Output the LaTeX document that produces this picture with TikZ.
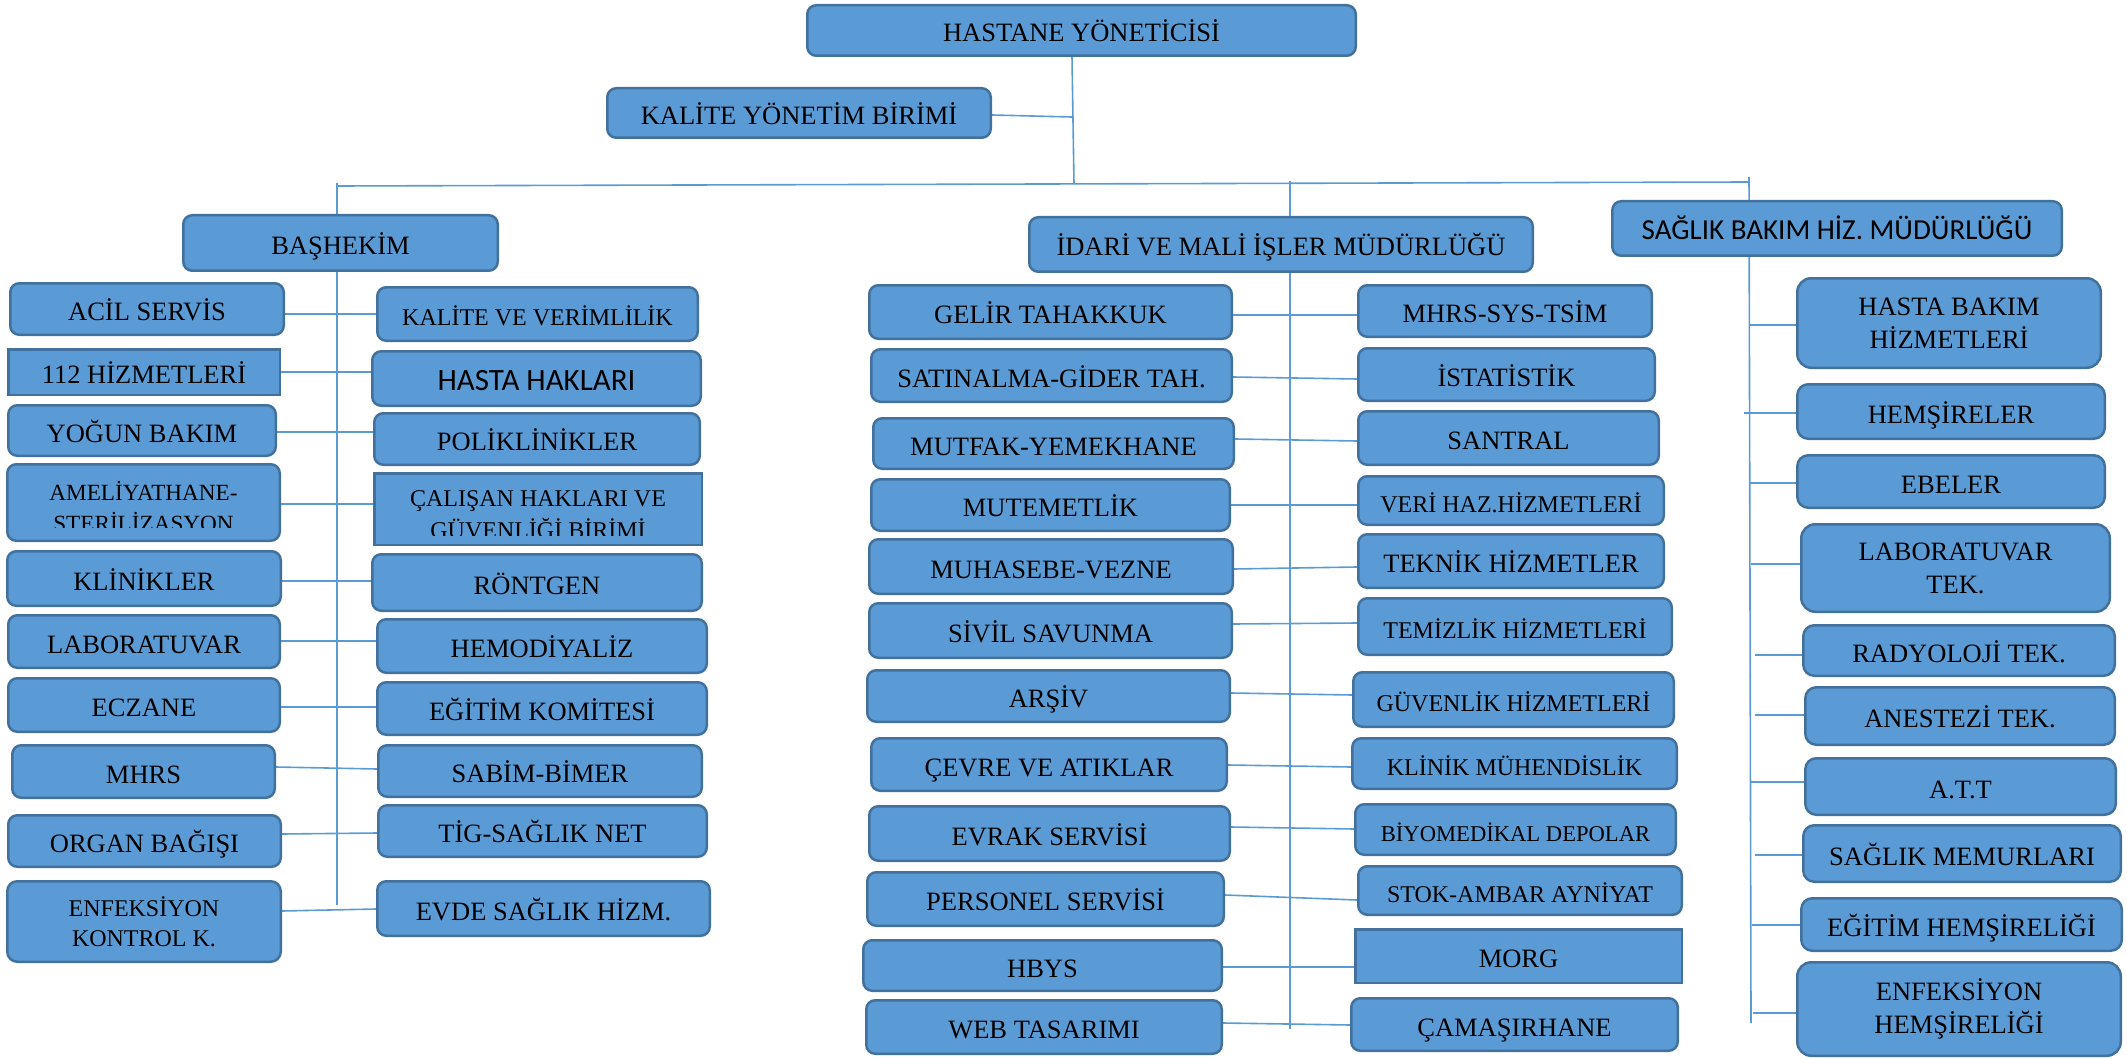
\documentclass[tikz,border=0pt]{standalone}
\usepackage{fontspec}
\setmainfont{Liberation Serif}
\newfontfamily\carl{Carlito}
\usetikzlibrary{backgrounds}
\definecolor{bfill}{HTML}{5B9BD5}
\definecolor{bord}{HTML}{41719C}
\definecolor{lnk}{HTML}{5B9BD5}
\newcommand\fsz[2]{\fontsize{#1}{#2}\selectfont}
\newcommand\B[7][one]{\node[#1,minimum width={(#5-#3)*1pt-2.5pt},minimum height={(#6-#4)*1pt-2.5pt}] (#2) at ({(#3+#5)/2},{(#4+#6)/2}) {#7};}
\tikzset{
  bx/.style={draw=bord, fill=bfill, line width=2.5pt, rounded corners=9pt, inner sep=0pt, text=black},
  one/.style={bx, text height=23pt, text depth=0pt},
  two/.style={bx, align=center, rounded corners=14pt},
  sq/.style={sharp corners},
  small/.style={font=\fsz{24}{30}},
  link/.style={draw=lnk, line width=1.6pt},
  lbl/.style={anchor=base, inner sep=0pt},
}
\begin{document}
\begin{tikzpicture}[x=1pt,y=-1pt,font=\fsz{26.5}{33}]
\useasboundingbox (0,0) rectangle (2127,1059);
% top
\B{hy}{806}{4}{1357}{57}{HASTANE YÖNETİCİSİ}
\B{ky}{606}{87}{992}{139}{KALİTE YÖNETİM BİRİMİ}
\B{bh}{182}{214}{499}{272}{BAŞHEKİM}
\B{im}{1028}{216}{1534}{273}{İDARİ VE MALİ İŞLER MÜDÜRLÜĞÜ}
\B[one,font=\carl\fsz{29}{33}]{sb}{1611}{200}{2063}{257}{SAĞLIK BAKIM HİZ. MÜDÜRLÜĞÜ}
% BAŞHEKİM left column
\B{a1}{9}{282}{285}{336}{ACİL SERVİS}
\B[one,sq]{a2}{7}{348}{281}{396}{112 HİZMETLERİ}
\B{a3}{7}{404}{277}{457}{YOĞUN BAKIM}
\B{a4}{6}{463}{281}{542}{}
\B{a5}{6}{550}{282}{607}{KLİNİKLER}
\B{a6}{7}{614}{281}{669}{LABORATUVAR}
\B{a7}{7}{677}{281}{733}{ECZANE}
\B{a8}{11}{744}{276}{799}{MHRS}
\B{a9}{7}{814}{282}{868}{ORGAN BAĞIŞI}
\B[two,rounded corners=10pt,small]{a10}{6}{880}{282}{963}{ENFEKSİYON\\KONTROL K.}
% BAŞHEKİM right column
\B[one,small]{b1}{376}{286}{699}{342}{KALİTE VE VERİMLİLİK}
\B[one,font=\carl\fsz{31}{33}]{b2}{371}{350}{702}{407}{HASTA HAKLARI}
\B{b3}{373}{412}{701}{466}{POLİKLİNİKLER}
\B[one,sq]{b4}{373}{472}{703}{546}{}
\B{b5}{371}{553}{703}{612}{RÖNTGEN}
\B{b6}{376}{618}{708}{674}{HEMODİYALİZ}
\B{b7}{376}{681}{708}{736}{EĞİTİM KOMİTESİ}
\B{b8}{377}{744}{703}{798}{SABİM-BİMER}
\B{b9}{377}{804}{708}{858}{TİG-SAĞLIK NET}
\B{b10}{376}{880}{711}{937}{EVDE SAĞLIK HİZM.}
% clipped texts
\begin{scope}
  \clip (6,463) rectangle (281,527);
  \node[lbl,font=\fsz{23.2}{30}] (a4t1) at (143.5,500) {AMELİYATHANE-};
  \node[lbl,font=\fsz{23.2}{30}] (a4t2) at (143.5,531) {STERİLİZASYON};
\end{scope}
\begin{scope}
  \clip (373,472) rectangle (703,535);
  \node[lbl,font=\fsz{24}{30}] (b4t1) at (538,506) {ÇALIŞAN HAKLARI VE};
  \node[lbl,font=\fsz{24}{30}] (b4t2) at (538,538) {GÜVENLİĞİ BİRİMİ};
\end{scope}
% İDARİ left column
\B{c1}{868}{284}{1233}{340}{GELİR TAHAKKUK}
\B{c2}{870}{348}{1233}{403}{SATINALMA-GİDER TAH.}
\B{c3}{872}{417}{1235}{470}{MUTFAK-YEMEKHANE}
\B{c4}{870}{478}{1231}{532}{MUTEMETLİK}
\B{c5}{868}{538}{1234}{595}{MUHASEBE-VEZNE}
\B{c6}{868}{602}{1233}{659}{SİVİL SAVUNMA}
\B{c7}{866}{669}{1231}{723}{ARŞİV}
\B{c8}{870}{737}{1228}{792}{ÇEVRE VE ATIKLAR}
\B{c9}{868}{805}{1231}{862}{EVRAK SERVİSİ}
\B{c10}{866}{871}{1225}{927}{PERSONEL SERVİSİ}
\B{c11}{862}{939}{1223}{992}{HBYS}
\B{c12}{865}{999}{1223}{1055}{WEB TASARIMI}
% İDARİ right column
\B{d1}{1357}{284}{1653}{338}{MHRS-SYS-TSİM}
\B{d2}{1357}{347}{1656}{402}{İSTATİSTİK}
\B{d3}{1357}{410}{1660}{466}{SANTRAL}
\B[one,small]{d4}{1357}{475}{1665}{526}{VERİ HAZ.HİZMETLERİ}
\B{d5}{1357}{533}{1665}{589}{TEKNİK HİZMETLER}
\B[one,small]{d6}{1357}{597}{1673}{656}{TEMİZLİK HİZMETLERİ}
\B[one,small]{d7}{1352}{671}{1675}{728}{GÜVENLİK HİZMETLERİ}
\B[one,small]{d8}{1351}{737}{1678}{790}{KLİNİK MÜHENDİSLİK}
\B[one,font=\fsz{22.6}{30}]{d9}{1354}{803}{1677}{856}{BİYOMEDİKAL DEPOLAR}
\B[one,small]{d10}{1357}{865}{1683}{916}{STOK-AMBAR AYNİYAT}
\B[one,sq]{d11}{1354}{928}{1683}{984}{MORG}
\B{d12}{1350}{997}{1679}{1052}{ÇAMAŞIRHANE}
% SAĞLIK column
\B[two]{e1}{1796}{277}{2102}{369}{HASTA BAKIM\\HİZMETLERİ}
\B[one,rounded corners=11pt]{e2}{1796}{383}{2106}{440}{HEMŞİRELER}
\B[one,rounded corners=11pt]{e3}{1796}{454}{2106}{509}{EBELER}
\B[two]{e4}{1800}{523}{2111}{613}{LABORATUVAR\\TEK.}
\B[one,rounded corners=11pt]{e5}{1802}{624}{2116}{677}{RADYOLOJİ TEK.}
\B[one,rounded corners=11pt]{e6}{1804}{686}{2116}{746}{ANESTEZİ TEK.}
\B[one,rounded corners=11pt]{e7}{1804}{757}{2117}{816}{A.T.T}
\B[one,rounded corners=11pt]{e8}{1802}{824}{2122}{883}{SAĞLIK MEMURLARI}
\B[one,rounded corners=11pt]{e9}{1800}{897}{2123}{952}{EĞİTİM HEMŞİRELİĞİ}
\B[two]{e10}{1796}{961}{2122}{1057}{ENFEKSİYON\\HEMŞİRELİĞİ}
% connectors
\coordinate (busL) at (337,186);
\coordinate (busR) at (1749,182);
\coordinate (trk) at (1074,184);
\coordinate (kj) at (1072,117);
\coordinate (bhT) at (337,183);
\coordinate (bhB) at (337,905);
\coordinate (imT) at (1290,181);
\coordinate (imB) at (1290,1029);
\coordinate (sbT) at (1749,177);
\coordinate (sbB) at (1751,1023);
\begin{scope}[on background layer]
  \draw[link] (busL) -- (busR);
  \draw[link] (hy.south -| kj) -- (trk);
  \draw[link] (ky.east |- 0,115) -- (kj);
  \draw[link] (bhT) -- (bhB);
  \draw[link] (imT) -- (imB);
  \draw[link] (sbT) -- (sbB);
  \foreach \l/\r/\ya/\yb in {a1/b1/314/314, a2/b2/372/372, a3/b3/432/432, a4/b4/504/504, a5/b5/581/581, a6/b6/641/641, a7/b7/707/707, a8/b8/767/769, a9/b9/834/833, a10/b10/911/909,
    c1/d1/315/315, c2/d2/377/379, c3/d3/439/441, c4/d4/505/505, c5/d5/569/567, c6/d6/624/623, c7/d7/693/695, c8/d8/765/767, c9/d9/827/829, c10/d10/895/900, c11/d11/967/967, c12/d12/1023/1025}
    \draw[link] (\l.east |- 0,\ya) -- (\r.west |- 0,\yb);
  \foreach \n/\xs/\y in {e1/1749/325, e2/1744/413, e3/1749/483, e4/1751/564, e5/1755/655, e6/1755/715, e7/1751/782, e8/1755/855, e9/1752/925, e10/1753/1013}
    \draw[link] (\xs,\y) -- (\n.west |- 0,\y);
\end{scope}
\end{tikzpicture}
\end{document}
